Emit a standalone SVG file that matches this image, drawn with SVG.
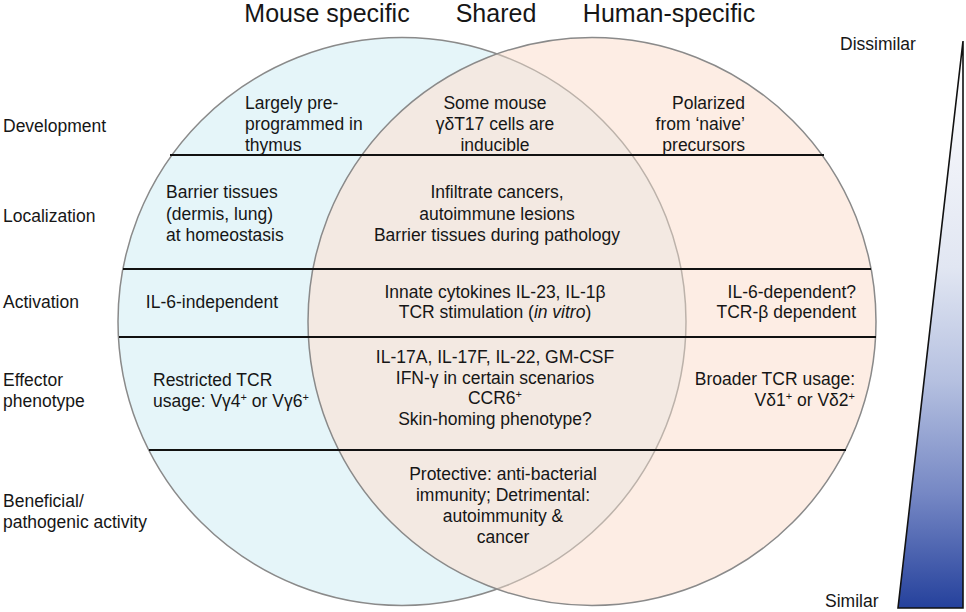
<svg xmlns="http://www.w3.org/2000/svg" width="966" height="612" viewBox="0 0 966 612">
<style>
text{font-family:"Liberation Sans",Arial,sans-serif;fill:#161616;font-size:17.5px}
.title{font-size:25px}
.m{text-anchor:middle}
.e{text-anchor:end}
.div{stroke:#111;stroke-width:1.8}
</style>
<defs>
<clipPath id="clipR"><circle cx="592" cy="321.5" r="284"/></clipPath>
<linearGradient id="grad" x1="0" y1="0" x2="0" y2="1">
<stop offset="0" stop-color="#ffffff"/>
<stop offset="0.4" stop-color="#e1e6f2"/>
<stop offset="0.6" stop-color="#b5c0e0"/>
<stop offset="0.8" stop-color="#7587c4"/>
<stop offset="1" stop-color="#25419c"/>
</linearGradient>
</defs>
<rect width="966" height="612" fill="#ffffff"/>
<g id="venn">
<circle cx="402" cy="321.5" r="284" fill="#e5f5f9" stroke="#8a8a8a" stroke-width="1.5"/>
<circle cx="592" cy="321.5" r="284" fill="#fdede4"/>
<circle cx="402" cy="321.5" r="284" fill="#f3e9e2" clip-path="url(#clipR)"/>
<circle cx="402" cy="321.5" r="284" fill="none" stroke="#bcb2aa" stroke-width="1.5" clip-path="url(#clipR)"/>
<circle cx="592" cy="321.5" r="284" fill="none" stroke="#8a8a8a" stroke-width="1.5"/>
</g>
<g id="connectors">
<line class="div" x1="170" y1="155" x2="824" y2="155"/>
<line class="div" x1="123" y1="269" x2="871" y2="269"/>
<line class="div" x1="119" y1="337" x2="876" y2="337"/>
<line class="div" x1="149" y1="450" x2="846" y2="450"/>
</g>
<g id="titles">
<text class="title m" x="327" y="22">Mouse specific</text>
<text class="title m" x="496" y="22">Shared</text>
<text class="title m" x="669" y="22">Human-specific</text>
</g>
<g id="row-labels">
<text x="3" y="132">Development</text>
<text x="3" y="222">Localization</text>
<text x="3" y="308">Activation</text>
<text x="3" y="386">Effector</text>
<text x="3" y="407">phenotype</text>
<text x="3" y="507">Beneficial/</text>
<text x="3" y="528">pathogenic activity</text>
</g>
<g id="dev-mouse">
<text x="245" y="109">Largely pre-</text>
<text x="245" y="130">programmed in</text>
<text x="245" y="151">thymus</text>
</g>
<g id="dev-shared">
<text class="m" x="495" y="109">Some mouse</text>
<text class="m" x="495" y="130">γδT17 cells are</text>
<text class="m" x="495" y="151">inducible</text>
</g>
<g id="dev-human">
<text class="e" x="745" y="109">Polarized</text>
<text class="e" x="745" y="130">from ‘naive’</text>
<text class="e" x="745" y="151">precursors</text>
</g>
<g id="loc-mouse">
<text x="166" y="198">Barrier tissues</text>
<text x="166" y="220">(dermis, lung)</text>
<text x="166" y="241">at homeostasis</text>
</g>
<g id="loc-shared">
<text class="m" x="497" y="198">Infiltrate cancers,</text>
<text class="m" x="497" y="220">autoimmune lesions</text>
<text class="m" x="497" y="241">Barrier tissues during pathology</text>
</g>
<g id="act-mouse">
<text class="m" x="212" y="308">IL-6-independent</text>
</g>
<g id="act-shared">
<text class="m" x="495" y="298">Innate cytokines IL-23, IL-1β</text>
<text class="m" x="495" y="318">TCR stimulation (<tspan font-style="italic">in vitro</tspan>)</text>
</g>
<g id="act-human">
<text class="e" x="856" y="298">IL-6-dependent?</text>
<text class="e" x="856" y="318">TCR-β dependent</text>
</g>
<g id="eff-mouse">
<text x="153" y="386">Restricted TCR</text>
<text x="153" y="407">usage: Vγ4<tspan font-size="11" dy="-6">+</tspan><tspan dy="6"> or Vγ6</tspan><tspan font-size="11" dy="-6">+</tspan></text>
</g>
<g id="eff-shared">
<text class="m" x="495" y="363">IL-17A, IL-17F, IL-22, GM-CSF</text>
<text class="m" x="495" y="384">IFN-γ in certain scenarios</text>
<text class="m" x="495" y="404">CCR6<tspan font-size="11" dy="-6">+</tspan></text>
<text class="m" x="495" y="425">Skin-homing phenotype?</text>
</g>
<g id="eff-human">
<text class="e" x="855" y="385">Broader TCR usage:</text>
<text class="e" x="855" y="406">Vδ1<tspan font-size="11" dy="-6">+</tspan><tspan dy="6"> or Vδ2</tspan><tspan font-size="11" dy="-6">+</tspan></text>
</g>
<g id="ben-shared">
<text class="m" x="503" y="480">Protective: anti-bacterial</text>
<text class="m" x="503" y="501">immunity; Detrimental:</text>
<text class="m" x="503" y="522">autoimmunity &amp;</text>
<text class="m" x="503" y="543">cancer</text>
</g>
<g id="scale">
<polygon points="963,41 898,608 963,608" fill="url(#grad)" stroke="#111" stroke-width="1.6" stroke-linejoin="miter"/>
<text x="840" y="50">Dissimilar</text>
<text x="825" y="607">Similar</text>
</g>
</svg>
